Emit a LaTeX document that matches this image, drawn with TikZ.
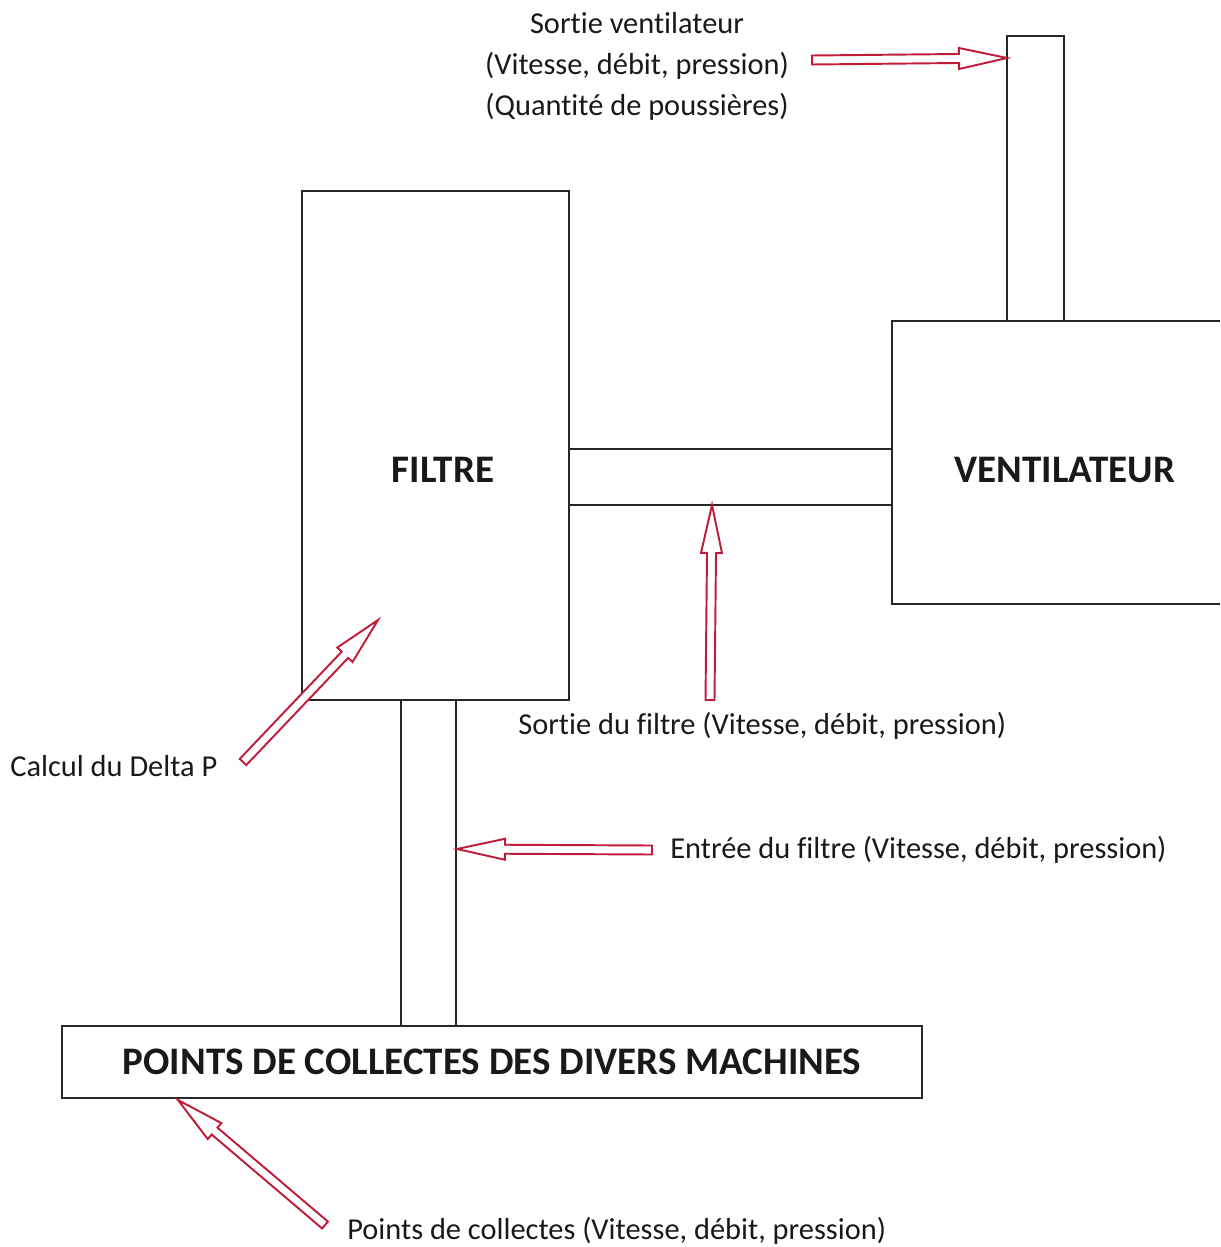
\documentclass[tikz,border=0pt]{standalone}
\usepackage{fontspec}
\setmainfont[Ligatures=NoCommon]{Carlito}
\usetikzlibrary{calc}
\definecolor{arrowred}{RGB}{192,28,58}
\tikzset{
  wall/.style={draw=black!85, line width=1.1pt},
  arrowline/.style={draw=arrowred, line width=1.1pt, fill=white, line join=miter},
  lbl/.style={font=\fontsize{17.3}{23.3}\selectfont, inner sep=0pt, text=black!90},
  title/.style={font=\fontsize{22.2}{26}\selectfont\bfseries, inner sep=0pt, text=black!90},
}
\def\sw{0.09cm}
\def\hw{0.21cm}
\def\hl{0.96cm}
\newcommand\blockarrow[2]{%
  \coordinate (ba-base) at ($(#2)!\hl!(#1)$);
  \draw[arrowline] ($(#1)!\sw!90:(#2)$) -- ($(ba-base)!\sw!90:(#2)$) -- ($(ba-base)!\hw!90:(#2)$) -- (#2) -- ($(ba-base)!\hw!-90:(#2)$) -- ($(ba-base)!\sw!-90:(#2)$) -- ($(#1)!\sw!-90:(#2)$) -- cycle;}
\begin{document}
\begin{tikzpicture}[x=0.02cm, y=-0.02cm]
\useasboundingbox (0,0) rectangle (1220,1247);
% filter box
\draw[wall] (302,191) rectangle (569,700);
\node[title] (filtre) at (443,470) {FILTRE};
% pipe filter -> ventilator
\draw[wall] (569,449) -- (892,449);
\draw[wall] (569,505) -- (892,505);
% ventilator box (open to the right edge)
\draw[wall] (1220,321) -- (892,321) -- (892,604) -- (1220,604);
\node[title] (vent) at (1065,470) {VENTILATEUR};
% chimney
\draw[wall] (1007,321) -- (1007,36) -- (1064,36) -- (1064,321);
% pipe to collection points
\draw[wall] (401,700) -- (401,1026);
\draw[wall] (456,700) -- (456,1026);
\node[wall, title, minimum width=17.2cm, minimum height=1.44cm] (points) at (492,1062) {POINTS DE COLLECTES DES DIVERS MACHINES};
% labels
\node[lbl, align=center] (sortvent) at (637,66) {Sortie ventilateur\\(Vitesse, débit, pression)\\(Quantité de poussières)};
\node[lbl, anchor=west] (sortfilt) at (518,726) {Sortie du filtre (Vitesse, débit, pression)};
\node[lbl, anchor=west] (delta) at (10,766) {Calcul du Delta P};
\node[lbl, anchor=west] (entree) at (670,850) {Entrée du filtre (Vitesse, débit, pression)};
\node[lbl, anchor=west] (collect) at (347,1231) {Points de collectes (Vitesse, débit, pression)};
% arrow ends
\coordinate (a1t) at (812,60);  \coordinate (a1h) at (1007,58);
\coordinate (a2t) at (243,762); \coordinate (a2h) at (378,620);
\coordinate (a3t) at (710,700); \coordinate (a3h) at (712,505);
\coordinate (a4t) at (652,850); \coordinate (a4h) at (457,849);
\coordinate (a5t) at (325,1225); \coordinate (a5h) at (178,1100);
\blockarrow{a1t}{a1h}
\blockarrow{a2t}{a2h}
\blockarrow{a3t}{a3h}
\blockarrow{a4t}{a4h}
\blockarrow{a5t}{a5h}
\end{tikzpicture}
\end{document}
